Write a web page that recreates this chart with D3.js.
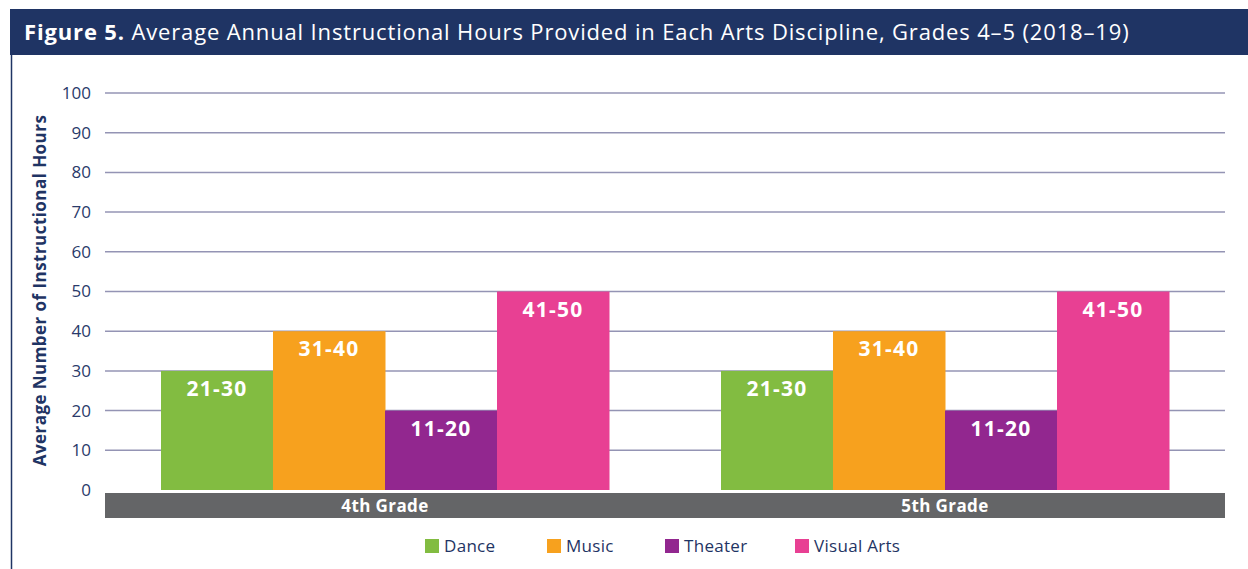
<!DOCTYPE html>
<html>
<head>
<meta charset="utf-8">
<script src="https://cdn.jsdelivr.net/npm/d3@7"></script>
<style>
  body { margin: 0; background: #fff; }
  svg { display: block; font-family: "Open Sans", sans-serif; }
</style>
</head>
<body>
<svg></svg>
<script>
const grades = ['4th Grade', '5th Grade'];
const disciplines = ['Dance', 'Music', 'Theater', 'Visual Arts'];
const hours4th = [30, 40, 20, 50];
const hours5th = [30, 40, 20, 50];
const rangeLabels = ['21-30', '31-40', '11-20', '41-50'];
const yTicks = [0, 10, 20, 30, 40, 50, 60, 70, 80, 90, 100];

const colors = ['#82bc41', '#f7a11e', '#92278f', '#e84093'];
const navy = '#1f3464';

const svgWidth = 1248;
const svgHeight = 569;
const margin = { top: 93, right: 23, bottom: 79, left: 105 };
const width = svgWidth - margin.left - margin.right;
const height = svgHeight - margin.top - margin.bottom;

const svg = d3.select('svg')
    .attr('width', svgWidth)
    .attr('height', svgHeight);

// title bar + left border
svg.append('rect')
    .attr('x', 10).attr('y', 9)
    .attr('width', svgWidth - 10).attr('height', 46)
    .attr('fill', navy);
svg.append('line')
    .attr('x1', 11.5).attr('x2', 11.5)
    .attr('y1', 55).attr('y2', svgHeight)
    .attr('stroke', navy).attr('stroke-width', 1.5);

const title = svg.append('text')
    .attr('x', 24).attr('y', 40)
    .attr('fill', '#fff')
    .attr('font-size', '22px')
    .attr('letter-spacing', '0.85px');
title.append('tspan').attr('font-weight', 'bold').text('Figure 5.');
title.append('tspan').text(' Average Annual Instructional Hours Provided in Each Arts Discipline, Grades 4–5 (2018–19)');

const g = svg.append('g')
    .attr('transform', `translate(${margin.left}, ${margin.top})`);

const y = d3.scaleLinear().domain([0, 100]).range([height, 0]);
const x0 = d3.scaleBand().domain(grades).range([0, width])
    .paddingInner(0.2).paddingOuter(0.1);
const x1 = d3.scaleBand().domain(disciplines).range([0, x0.bandwidth()]);

// gridlines
g.selectAll('.grid')
    .data(yTicks.slice(1))
    .enter().append('line')
    .attr('x1', 0).attr('x2', width)
    .attr('y1', d => y(d)).attr('y2', d => y(d))
    .attr('stroke', '#9494b4').attr('stroke-width', 1.5);

// y axis labels
const yAxis = g.append('g')
    .call(d3.axisLeft(y).tickValues(yTicks).tickSize(0).tickPadding(14));
yAxis.select('.domain').remove();
yAxis.selectAll('text')
    .attr('fill', '#2a3a6a')
    .attr('font-size', '17px')
    .attr('font-family', '"Open Sans", sans-serif');

svg.append('text')
    .attr('transform', `translate(46, ${margin.top + height / 2 - 1}) rotate(-90)`)
    .attr('text-anchor', 'middle')
    .attr('fill', navy)
    .attr('font-weight', 'bold')
    .attr('font-size', '17px')
    .attr('letter-spacing', '0.45px')
    .text('Average Number of Instructional Hours');

// bars
const seriesByGrade = [hours4th, hours5th];
const groups = g.selectAll('.group')
    .data(grades)
    .enter().append('g')
    .attr('transform', d => `translate(${x0(d)}, 0)`);

const bar = groups.selectAll('.bar')
    .data((d, i) => disciplines.map((name, j) => ({ name, value: seriesByGrade[i][j], label: rangeLabels[j], j })))
    .enter().append('g');

bar.append('rect')
    .attr('x', d => x1(d.name))
    .attr('y', d => y(d.value))
    .attr('width', x1.bandwidth() + 0.5)
    .attr('height', d => height - y(d.value))
    .attr('fill', d => colors[d.j]);

bar.append('text')
    .attr('x', d => x1(d.name) + x1.bandwidth() / 2)
    .attr('y', d => y(d.value) + 25)
    .attr('text-anchor', 'middle')
    .attr('fill', '#fff')
    .attr('font-weight', 'bold')
    .attr('font-size', '21px')
    .attr('letter-spacing', '1.2px')
    .text(d => d.label);

// gray category band
g.append('rect')
    .attr('x', 0).attr('y', height + 3)
    .attr('width', width).attr('height', 25)
    .attr('fill', '#646567');

g.selectAll('.cat')
    .data(grades)
    .enter().append('text')
    .attr('x', d => x0(d) + x0.bandwidth() / 2)
    .attr('y', height + 22)
    .attr('text-anchor', 'middle')
    .attr('fill', '#fff')
    .attr('font-weight', 'bold')
    .attr('font-size', '17px')
    .attr('letter-spacing', '0.4px')
    .text(d => d);

// legend
const legendX = [425, 547, 665, 795];
const legend = svg.selectAll('.legend')
    .data(disciplines)
    .enter().append('g')
    .attr('transform', (d, i) => `translate(${legendX[i]}, 539)`);

legend.append('rect')
    .attr('width', 14).attr('height', 14)
    .attr('fill', (d, i) => colors[i]);

legend.append('text')
    .attr('x', 19).attr('y', 13)
    .attr('fill', navy)
    .attr('font-size', '17px')
    .attr('letter-spacing', '0.3px')
    .text(d => d);
</script>
</body>
</html>
